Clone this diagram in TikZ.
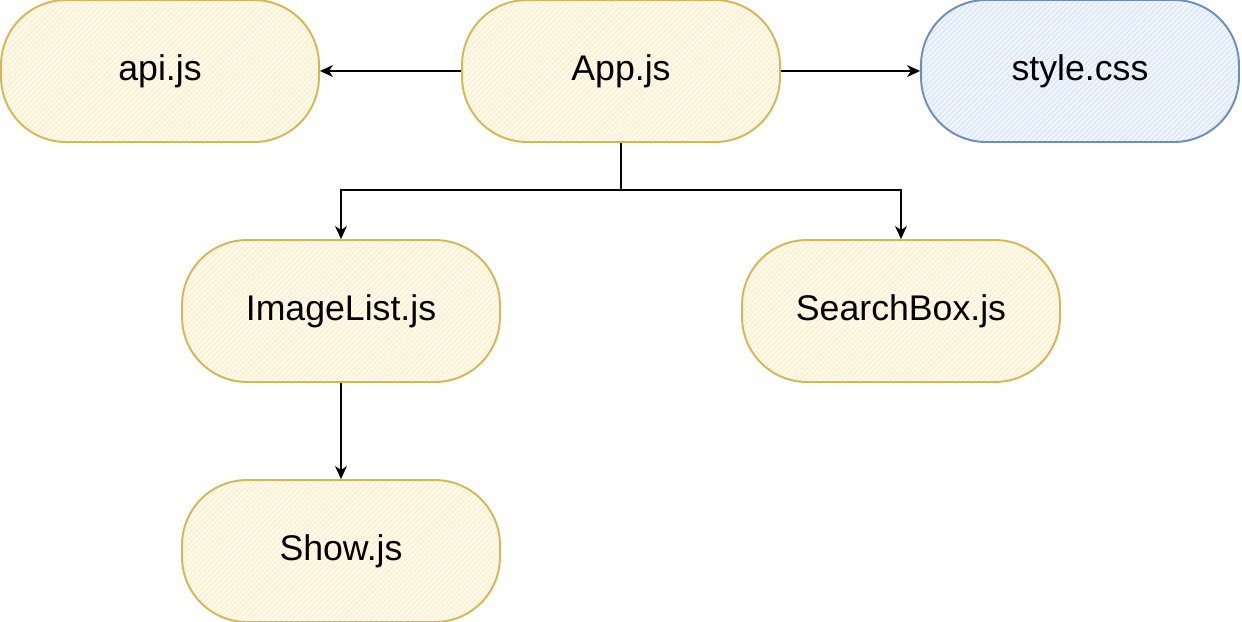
\documentclass[tikz,border=0pt]{standalone}
\usepackage{fontspec}
\setmainfont{Liberation Sans}
\usepackage{xcolor}
\usepackage{tikz}
\usetikzlibrary{patterns}
\usetikzlibrary{arrows.meta}

\definecolor{yfill}{HTML}{FFF2CC}
\definecolor{ydraw}{HTML}{D6B656}
\definecolor{bfill}{HTML}{DAE8FC}
\definecolor{bdraw}{HTML}{6C8EBF}

\tikzset{
    filebox/.style={draw=#1draw, line width=1.1pt, rounded corners=1.3cm,
        minimum width=6.36cm, minimum height=2.84cm,
        preaction={fill=#1fill!45!white},
        pattern=north east lines, pattern color=#1fill!75!#1draw!70!white,
        font=\fontsize{20.3}{24}\selectfont},
    link/.style={-{Stealth[length=2.6mm, width=2.4mm, inset=0.8mm]}, line width=0.7pt}
}

\begin{document}
\begin{tikzpicture}[x=0.02cm,y=-0.02cm]
        \useasboundingbox (0,0) rectangle (1242,622);

        \node[filebox=y] (api) at (160,71) {api.js};
        \node[filebox=y] (app) at (621,71) {App.js};
        \node[filebox=b] (css) at (1080,71) {style.css};
        \node[filebox=y] (list) at (341,311) {ImageList.js};
        \node[filebox=y] (search) at (901,311) {SearchBox.js};
        \node[filebox=y] (show) at (341,551) {Show.js};

        \coordinate (split) at (621,190);

        \draw[link] (app) -- (api);
        \draw[link] (app) -- (css);
        \draw[link] (app.south) -- (split) -| (list.north);
        \draw[link] (split) -| (search.north);
        \draw[link] (list) -- (show);
    \end{tikzpicture}
\end{document}
